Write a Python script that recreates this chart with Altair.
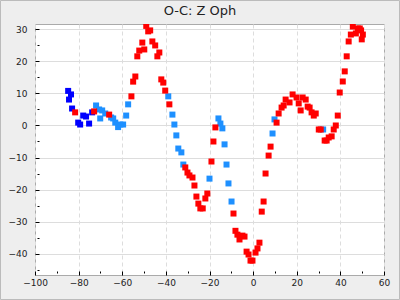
import altair as alt
import pandas as pd

# Dark blue series
blue_x = [-84.8, -83.5, -84.4, -83.0, -80.2, -79.3, -77.9, -76.6, -75.2, -73.8]
blue_y = [10.8, 9.7, 8.1, 5.3, 0.9, 0.3, 3.1, 2.8, 0.6, 4.1]

# Light blue series
lblue_x = [-72.0, -70.6, -70.1, -69.2, -67.8, -65.1, -64.15, -63.2, -61.9, -60.9, -59.6, -58.2, -57.3,
           -38.9, -37.0, -36.1, -35.2, -34.3, -32.9, -32.0, -20.0, -15.9, -15.0, -14.1, -13.1, -12.2,
           -11.3, -9.9, 8.9, 9.8, 32.1]
lblue_y = [6.25, 5.0, 2.2, 4.7, 3.75, 2.5, 2.2, 0.9, -0.5, 0.3, 0.3, 3.1, 6.6,
           9.1, 3.4, 0.3, -3.1, -7.2, -8.4, -12.2, -16.6, 2.2, 0.6, -0.9, -5.9, -12.2,
           -18.1, -23.75, -2.5, 1.9, -1.25]

# Red series
red_x = [-81.6, -72.9, -66.0, -55.8, -55.0, -54.0, -53.1, -52.2, -50.8, -49.9, -49.0, -48.1, -47.2,
         -46.2, -44.9, -43.9, -43.0, -42.1, -41.2, -40.3, -38.4, -31.1, -30.1, -29.2, -27.8, -26.9,
         -26.0, -25.1, -24.2, -23.1, -21.9, -21.0, -19.1, -18.2, -17.3, -9.0, -8.1, -7.2, -6.25,
         -4.9, -3.95, -3.0, -2.1, -1.2, -0.3, 1.1, 2.0, 2.9, 3.95, 4.8, 5.7, 7.1, 8.0, 10.75, 11.7,
         13.05, 14.0, 14.9, 16.7, 18.1, 19.9, 20.9, 21.8, 22.7, 24.1, 25.0, 25.9, 26.8, 27.8, 28.7,
         30.1, 31.0, 32.8, 33.7, 34.65, 36.0, 36.95, 37.9, 38.8, 39.7, 41.1, 42.0, 42.9, 43.8, 44.8,
         45.7, 47.1, 48.0, 48.9, 49.5, 50.3, 49.8]
red_y = [4.1, 4.4, 3.4, 9.1, 13.7, 15.3, 21.6, 23.4, 25.9, 23.75, 31.1, 29.4, 29.7,
         26.25, 25.0, 21.6, 22.8, 14.4, 13.4, 10.9, 6.6, -13.1, -14.7, -15.6, -16.25, -18.75,
         -22.2, -24.4, -25.9, -25.9, -22.8, -21.25, -11.25, -5.0, -0.6, -27.5, -32.9, -34.1, -35.6,
         -34.4, -34.7, -39.4, -40.3, -42.2, -42.2, -39.7, -38.4, -36.6, -26.9, -23.75, -15.0, -9.4, -6.6, 0.9, 3.75,
         5.6, 6.25, 8.1, 7.2, 9.7, 8.75, 6.9, 4.7, 8.75, 8.1, 5.9, 5.6, 4.1, 3.1, 3.75,
         -1.25, -1.25, -4.7, -4.7, -3.75, -3.4, -1.25, 0.0, 3.1, 10.3, 13.75, 16.9, 21.6, 26.25, 28.4,
         30.9, 28.75, 30.3, 30.3, 29.7, 28.4, 26.9]

series_names = ["blue", "lightblue", "red"]
series_colors = ["#0000FF", "#1E90FF", "#FF0000"]
x_ticks = list(range(-100, 61, 10))
y_ticks = list(range(-45, 31, 5))
title_text = "O-C: Z Oph"

rows = []
for order, (name, xs, ys) in enumerate([("blue", blue_x, blue_y), ("lightblue", lblue_x, lblue_y), ("red", red_x, red_y)]):
    for a, b in zip(xs, ys):
        rows.append({"x": a, "y": b, "series": name, "ord": order})
df = pd.DataFrame(rows)

W, H = 349, 251
FONT = "DejaVu Sans"

x_axis = alt.Axis(
    values=x_ticks, title=None, offset=-4, domain=False,
    labelExpr="datum.value % 20 === 0 ? datum.label : ''",
    tickSize={"condition": {"test": "datum.value % 20 === 0", "value": 4}, "value": 2},
    tickColor="#000000",
    gridOpacity={"condition": {"test": "datum.value % 20 === 0", "value": 1}, "value": 0},
    gridColor="#DDDDDD", gridDash=[4, 3],
    labelFont=FONT, labelFontSize=9, labelColor="#222222", labelPadding=3,
    labelFlush=False, labelOverlap=False,
)
y_axis = alt.Axis(
    values=y_ticks, title=None, offset=-4, domain=False,
    labelExpr="datum.value % 10 === 0 ? datum.label : ''",
    tickSize={"condition": {"test": "datum.value % 10 === 0", "value": 4}, "value": 2},
    tickColor="#000000",
    gridOpacity={"condition": {"test": "datum.value % 10 === 0", "value": 1}, "value": 0},
    gridColor="#DDDDDD",
    labelFont=FONT, labelFontSize=9, labelColor="#222222", labelPadding=8,
    labelFlush=False, labelOverlap=False,
)

points = alt.Chart(df).mark_square(size=36, opacity=1, clip=True).encode(
    x=alt.X("x:Q", scale=alt.Scale(domain=[-100, 60], nice=False, zero=False), axis=x_axis),
    y=alt.Y("y:Q", scale=alt.Scale(domain=[-46.7, 31.7], nice=False, zero=False), axis=y_axis),
    color=alt.Color("series:N", scale=alt.Scale(domain=series_names, range=series_colors), legend=None),
    order=alt.Order("ord:Q"),
)

title = alt.Chart(pd.DataFrame({"t": [title_text]})).mark_text(
    font=FONT, fontSize=13, color="#222222", align="center", baseline="middle"
).encode(text="t:N", x=alt.value(165), y=alt.value(-13))

border = alt.Chart(pd.DataFrame({"t": [title_text]})).mark_rect(
    fill=None, stroke="#BBBBBB", strokeWidth=1
).encode(x=alt.value(-34.5), x2=alt.value(364.5), y=alt.value(-23.5), y2=alt.value(275.5))

chart = alt.layer(border, points, title).properties(
    width=W, height=H,
    autosize="none",
    padding={"left": 35, "top": 24, "right": 400 - 35 - W, "bottom": 300 - 24 - H},
    background="#EEEEEE",
).configure_view(stroke="#AAAAAA", fill="#FFFFFF")

chart.save("out.html", embed_options={"renderer": "svg", "actions": False})
